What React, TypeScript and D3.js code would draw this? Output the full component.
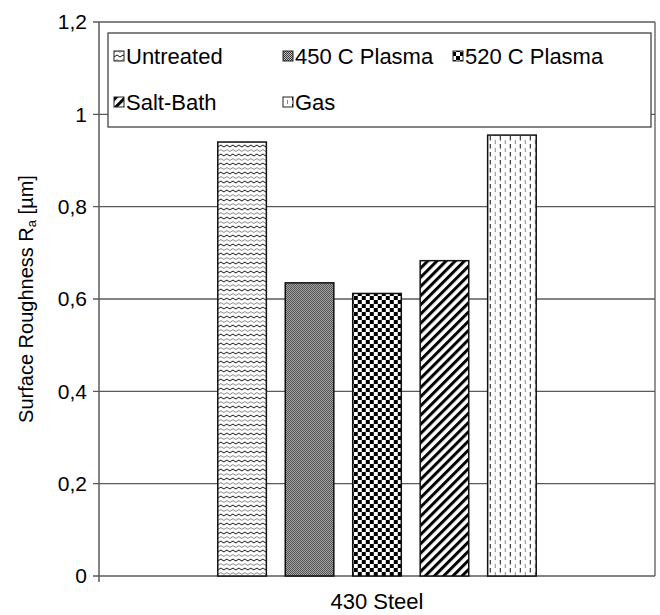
import React from 'react';
import * as d3 from 'd3';

// data
const categories = ['430 Steel'];
const series = ['Untreated', '450 C Plasma', '520 C Plasma', 'Salt-Bath', 'Gas'];
const roughness = [0.94, 0.635, 0.612, 0.683, 0.955];
const yTicks = [0, 0.2, 0.4, 0.6, 0.8, 1, 1.2];
const patternIds = ['pWave', 'pFine', 'pCheck', 'pDiag', 'pDash'];

const W = 660;
const H = 615;
const margin = { top: 22, right: 5, bottom: 39, left: 99 };

const fmt = d3.formatLocale({ decimal: ',', thousands: '.', grouping: [3], currency: ['', ''] }).format('~g');

const App = () => {
  const left = margin.left;
  const right = W - margin.right;
  const top = margin.top;
  const bottom = H - margin.bottom;

  const y = d3.scaleLinear().domain([0, 1.2]).range([bottom, top]);
  const x0 = d3.scaleBand().domain(categories).range([left, right]).paddingOuter(0.373);
  const x1 = d3.scaleBand().domain(series).range([0, x0.bandwidth()]).paddingInner(0.28);

  const font = '"Liberation Sans", Arial, sans-serif';
  const gridColor = '#5a5a5a';

  // legend layout: three columns, two rows
  const legendBox = { x: 108, y: 33, w: 543, h: 94 };
  const colX = [114, 283, 453];
  const rowY = [56, 102];

  return (
    <svg width={W} height={H} style={{ display: 'block', position: 'absolute', left: 0, top: 0 }}>
      <defs>
        <pattern id="pWave" width="6" height="9" patternUnits="userSpaceOnUse">
          <rect width="6" height="9" fill="#fff" />
          <path d="M0,3 L3,1 L6,3" fill="none" stroke="#111" strokeWidth="1" />
          <path d="M0,7.5 L3,5.5 L6,7.5" fill="none" stroke="#8a8a8a" strokeWidth="1" />
        </pattern>
        <pattern id="pFine" width="2" height="2" patternUnits="userSpaceOnUse">
          <rect width="2" height="2" fill="#c0c0c0" />
          <rect width="1" height="1" fill="#383838" />
          <rect x="1" y="1" width="1" height="1" fill="#383838" />
        </pattern>
        <pattern id="pCheck" width="8" height="8" patternUnits="userSpaceOnUse">
          <rect width="8" height="8" fill="#fff" />
          <rect width="4" height="4" fill="#000" />
          <rect x="4" y="4" width="4" height="4" fill="#000" />
        </pattern>
        <pattern id="pDiag" width="6.5" height="6.5" patternUnits="userSpaceOnUse" patternTransform="rotate(45)">
          <rect width="6.5" height="6.5" fill="#fff" />
          <rect width="3" height="6.5" fill="#000" />
        </pattern>
        <pattern id="pDash" width="10" height="8" patternUnits="userSpaceOnUse">
          <rect width="10" height="8" fill="#fff" />
          <line x1="2.5" y1="0" x2="2.5" y2="4.5" stroke="#111" strokeWidth="1" />
          <line x1="7.5" y1="4" x2="7.5" y2="8.5" stroke="#888" strokeWidth="1" />
        </pattern>
      </defs>

      {/* gridlines + frame */}
      {yTicks.map((t) => (
        <line key={t} x1={left - 6} x2={right} y1={y(t)} y2={y(t)} stroke={gridColor} strokeWidth={1.3} />
      ))}
      <line x1={right} x2={right} y1={top} y2={bottom} stroke={gridColor} strokeWidth={1.3} />
      <line x1={left} x2={left} y1={top} y2={bottom + 6} stroke={gridColor} strokeWidth={1.5} />

      {/* tick labels */}
      {yTicks.map((t) => (
        <text key={'l' + t} x={left - 12} y={y(t)} dy="0.35em" textAnchor="end" fontFamily={font} fontSize={21} fill="#000">
          {fmt(t)}
        </text>
      ))}

      {/* bars */}
      {categories.map((c) => (
        <g key={c} transform={`translate(${x0(c)},0)`}>
          {series.map((s, i) => (
            <rect
              key={s}
              x={x1(s)}
              y={y(roughness[i])}
              width={x1.bandwidth()}
              height={y(0) - y(roughness[i])}
              fill={`url(#${patternIds[i]})`}
              stroke="#111"
              strokeWidth={1.5}
            />
          ))}
          <text x={x0.bandwidth() / 2} y={bottom + 33} textAnchor="middle" fontFamily={font} fontSize={22} fill="#000">
            {c}
          </text>
        </g>
      ))}

      {/* y label */}
      <text
        transform={`translate(33,${(top + bottom) / 2}) rotate(-90)`}
        textAnchor="middle"
        fontFamily={font}
        fontSize={20}
        fill="#000"
      >
        Surface Roughness R<tspan fontSize={13} dy="3">a</tspan>
        <tspan dy="-3"> [µm]</tspan>
      </text>

      {/* legend */}
      <rect x={legendBox.x} y={legendBox.y} width={legendBox.w} height={legendBox.h} fill="#fff" stroke="#444" strokeWidth={1.3} />
      {series.map((s, i) => {
        const lx = colX[i % 3];
        const ly = rowY[Math.floor(i / 3)];
        return (
          <g key={'leg' + s}>
            <rect x={lx} y={ly - 5} width={10} height={10} fill={`url(#${patternIds[i]})`} stroke="#222" strokeWidth={1} />
            <text x={lx + 12} y={ly} dy="0.35em" fontFamily={font} fontSize={22} fill="#000">
              {s}
            </text>
          </g>
        );
      })}
    </svg>
  );
};

export default App;
